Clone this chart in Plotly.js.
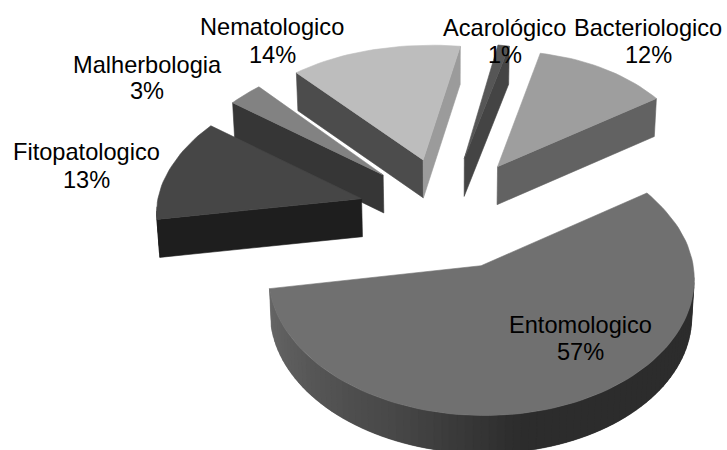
<!DOCTYPE html>
<html>
<head>
<meta charset="utf-8">
<script src="https://cdn.plot.ly/plotly-3.0.1.min.js"></script>
<style>html,body{margin:0;padding:0;background:#fff}#chart{width:727px;height:450px}</style>
</head>
<body>
<div id="chart"></div>
<script>
// Share of phytosanitary reports by category (percent), clockwise from the first angle
const categories = ['Bacteriologico', 'Entomologico', 'Fitopatologico', 'Malherbologia', 'Nematologico', 'Acarológico'];
const values = [12, 57, 13, 3, 14, 1];

// Face shades of each wedge
const topShades = ['#9e9e9e', '#707070', '#464646', '#828282', '#bdbdbd', '#565656'];
const startWallShades = ['#626262', '#707070', '#1e1e1e', '#363636', '#4c4c4c', '#404040'];
const endWallShades = ['#626262', '#707070', '#464646', '#828282', '#9b9b9b', '#444444'];
const rimShades = ['#626262', null, '#1e1e1e', '#363636', '#4c4c4c', '#404040'];

// Label placement, as centre x with the y of the name line and of the percent line
const labelX = [648, 580, 86, 147, 272, 504.5];
const labelNameY = [28, 325, 152, 65, 27, 28];
const labelPctY = [55, 352, 180, 91, 55, 55];

// Projection of the tilted pie
const view = {cx: 449, cy: 210, ax: 205, ay: 128.5, persp: 0.0807, depth: 38, baseScale: 0.99};
const wedgeShiftX = [0, 0, 5, 3, 1, 0];
const firstAngle = 12;
const explode = 0.45;

const rad = d => d * Math.PI / 180;
const clamp01 = v => Math.max(0, Math.min(1, v));

function project(X, Y, base, i) {
  const s = 1 / (1 + view.persp * Y);
  // The camera sits slightly left of the pie, so far points on the right drift outward
  const skew = -4 + 8 * Math.max(Y, 0) * (1 - clamp01(-X / 0.8));
  // Mid-depth points sit a little lower than a plain perspective puts them
  const sag = 3.5 * Math.max(0, 1 - Math.abs(Y - 0.4) / 0.9);
  let sx = view.cx + view.ax * X * s + skew + wedgeShiftX[i];
  let sy = view.cy - view.ay * Y * s + sag;
  if (base) {
    sx = view.cx + (sx - view.cx) * view.baseScale;
    sy += view.depth;
  }
  return [sx, sy];
}

// Shade of the large wedge's rim, from the front of the pie to its left corner
function rimShade(angle) {
  const stops = [[170, 0x2c], [200, 0x46], [235, 0x5a], [262, 0x68]];
  let g = stops[0][1];
  for (let k = 0; k < stops.length - 1; k++) {
    const [a0, g0] = stops[k], [a1, g1] = stops[k + 1];
    if (angle >= a0) g = g0 + (g1 - g0) * Math.min(1, (angle - a0) / (a1 - a0));
  }
  g = Math.round(g);
  return `rgb(${g},${g},${g})`;
}

function polygon(pts, color, lineWidth) {
  return {
    type: 'scatter', mode: 'lines', hoverinfo: 'skip', showlegend: false,
    x: pts.map(p => p[0]), y: pts.map(p => p[1]),
    fill: 'toself', fillcolor: color, line: {color: color, width: lineWidth || 0.6}
  };
}

const total = values.reduce((a, b) => a + b, 0);
let running = firstAngle;
const wedges = values.map((v, i) => {
  const start = running, end = running + v / total * 360;
  running = end;
  const mid = rad((start + end) / 2);
  const ox = explode * Math.sin(mid), oy = explode * Math.cos(mid);
  const world = [];
  const steps = Math.max(2, Math.ceil((end - start) / 2));
  for (let k = 0; k <= steps; k++) {
    const a = start + (end - start) * k / steps;
    world.push({a, X: ox + Math.sin(rad(a)), Y: oy + Math.cos(rad(a))});
  }
  return {i, ox, oy, world};
});

// Far wedges are painted first so the nearer ones overlap them
const paintOrder = [4, 5, 0, 3, 2, 1];
const traces = [];
paintOrder.forEach(i => {
  const w = wedges[i];
  const apexT = project(w.ox, w.oy, false, i), apexB = project(w.ox, w.oy, true, i);
  const arcT = w.world.map(p => project(p.X, p.Y, false, i));
  const arcB = w.world.map(p => project(p.X, p.Y, true, i));

  // A wall shows only where the outline runs right to left on screen
  const n = arcT.length;
  if (arcT[0][0] < apexT[0]) {
    traces.push(polygon([apexT, arcT[0], arcB[0], apexB, apexT], startWallShades[i]));
  }
  for (let k = 0; k < n - 1; k++) {
    if (arcT[k + 1][0] < arcT[k][0]) {
      const shade = rimShades[i] || rimShade(w.world[k].a);
      // Each rim facet reaches into the next one so no seam shows between them
      const next = Math.min(k + 2, n - 1);
      traces.push(polygon([arcT[k], arcT[next], arcB[next], arcB[k], arcT[k]], shade, 0.3));
    }
  }
  if (arcT[n - 1][0] > apexT[0]) {
    traces.push(polygon([arcT[n - 1], apexT, apexB, arcB[n - 1], arcT[n - 1]], endWallShades[i]));
  }
  traces.push(polygon([apexT, ...arcT, apexT], topShades[i]));
});

const labelFont = {family: 'Liberation Sans, Arial, sans-serif', size: 23.6, color: '#000000'};
const annotations = [];
categories.forEach((name, i) => {
  [[name, labelNameY[i]], [values[i] + '%', labelPctY[i]]].forEach(([text, y]) => {
    annotations.push({
      text, x: labelX[i], y, xref: 'x', yref: 'y',
      xanchor: 'center', yanchor: 'middle', showarrow: false, font: labelFont
    });
  });
});

Plotly.newPlot('chart', traces, {
  width: 727, height: 450,
  margin: {l: 0, r: 0, t: 0, b: 0},
  paper_bgcolor: '#ffffff', plot_bgcolor: '#ffffff',
  showlegend: false, hovermode: false,
  xaxis: {range: [0, 727], visible: false, fixedrange: true},
  yaxis: {range: [450, 0], visible: false, fixedrange: true},
  annotations
}, {staticPlot: true, displayModeBar: false});
</script>
</body>
</html>
